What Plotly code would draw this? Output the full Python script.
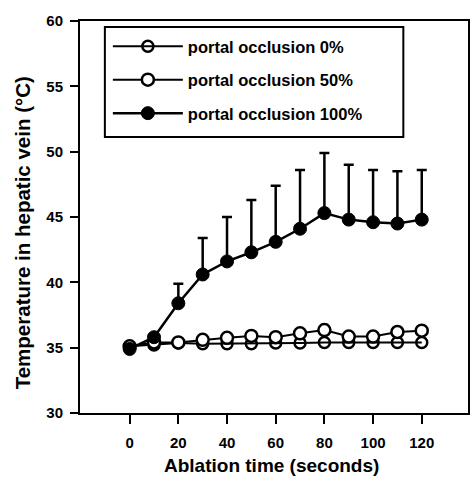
import plotly.graph_objects as go

time_s = [0, 10, 20, 30, 40, 50, 60, 70, 80, 90, 100, 110, 120]
occ0 = [35.1, 35.2, 35.35, 35.3, 35.3, 35.3, 35.35, 35.35, 35.4, 35.4, 35.4, 35.4, 35.4]
occ50 = [35.1, 35.4, 35.4, 35.6, 35.75, 35.9, 35.8, 36.1, 36.35, 35.85, 35.85, 36.2, 36.3]
occ50_err = [0, 0, 0, 0, 0, 0, 0, 0, 0.4, 0, 0, 0, 0.35]
occ100 = [34.9, 35.8, 38.4, 40.6, 41.6, 42.3, 43.1, 44.1, 45.3, 44.8, 44.6, 44.5, 44.8]
occ100_err = [0.0, 0.1, 1.5, 2.8, 3.4, 4.0, 4.3, 4.5, 4.6, 4.2, 4.0, 4.0, 3.8]
x_ticks = [0, 20, 40, 60, 80, 100, 120]
y_ticks = [30, 35, 40, 45, 50, 55, 60]

fig = go.Figure()
fig.add_trace(go.Scatter(
    x=time_s, y=occ0, name="portal occlusion 0%", mode="lines+markers",
    legendgroup="a",
    line=dict(color="black", width=2),
    marker=dict(symbol="circle-open", size=11, color="black", line=dict(width=2.5)),
))
fig.add_trace(go.Scatter(
    x=time_s, y=occ50, name="portal occlusion 50%", mode="lines+markers",
    legendgroup="b",
    line=dict(color="black", width=2),
    marker=dict(symbol="circle", size=12, color="white", line=dict(width=2.5, color="black")),
    error_y=dict(type="data", array=occ50_err, arrayminus=[0] * len(occ50_err),
                 symmetric=False, color="black", thickness=2, width=4),
))
fig.add_trace(go.Scatter(
    x=time_s, y=occ100, name="portal occlusion 100%", mode="lines+markers",
    legendgroup="c",
    line=dict(color="black", width=2.5),
    marker=dict(symbol="circle", size=13, color="black", line=dict(width=1, color="black")),
    error_y=dict(type="data", array=occ100_err, arrayminus=[0] * len(occ100_err),
                 symmetric=False, color="black", thickness=2.5, width=5),
))

font = "Liberation Sans, Arial, sans-serif"
fig.update_layout(
    width=472, height=479,
    margin=dict(l=80, r=2, t=21, b=66),
    plot_bgcolor="white", paper_bgcolor="white",
    font=dict(family=font, color="black"),
    showlegend=True,
    legend=dict(
        x=(108 - 80) / 390, y=1 - (29 - 21) / 392, xanchor="left", yanchor="top",
        bgcolor="rgba(0,0,0,0)", borderwidth=0,
        font=dict(size=16.5, family=font, color="black", weight="bold"),
        itemwidth=70, traceorder="grouped", tracegroupgap=9,
    ),
    shapes=[
        dict(type="rect", xref="paper", yref="paper",
             x0=(105 - 80) / 390, x1=(405 - 80) / 390,
             y0=1 - (137 - 21) / 392, y1=1 - (27 - 21) / 392,
             line=dict(color="black", width=2), fillcolor="white", layer="below"),
    ],
    xaxis=dict(
        range=[-20.4, 139], tickvals=x_ticks, showgrid=False, zeroline=False,
        showline=True, linecolor="black", linewidth=2, mirror=True,
        ticks="outside", ticklen=9, tickwidth=2, tickcolor="black",
        ticklabelstandoff=6,
        tickfont=dict(size=15, family=font, weight="bold"),
    ),
    yaxis=dict(
        range=[30, 60], tickvals=y_ticks, showgrid=False, zeroline=False,
        showline=True, linecolor="black", linewidth=2, mirror=True,
        ticks="outside", ticklen=8, tickwidth=2, tickcolor="black",
        ticklabelstandoff=4,
        tickfont=dict(size=15, family=font, weight="bold"),
    ),
    annotations=[
        dict(text="Ablation time (seconds)", xref="paper", yref="paper",
             x=(272 - 80) / 390, y=-(466 - 413) / 392, xanchor="center", yanchor="middle",
             showarrow=False, font=dict(size=19, family=font, weight="bold")),
        dict(text="Temperature in hepatic vein (°C)", xref="paper", yref="paper",
             x=-(80 - 22) / 390, y=1 - (233 - 21) / 392, xanchor="center", yanchor="middle",
             textangle=-90, showarrow=False, font=dict(size=20.5, family=font, weight="bold")),
    ],
)

fig.write_html("out.html", config={"displayModeBar": False},
               post_script="document.body.style.margin='0';")
